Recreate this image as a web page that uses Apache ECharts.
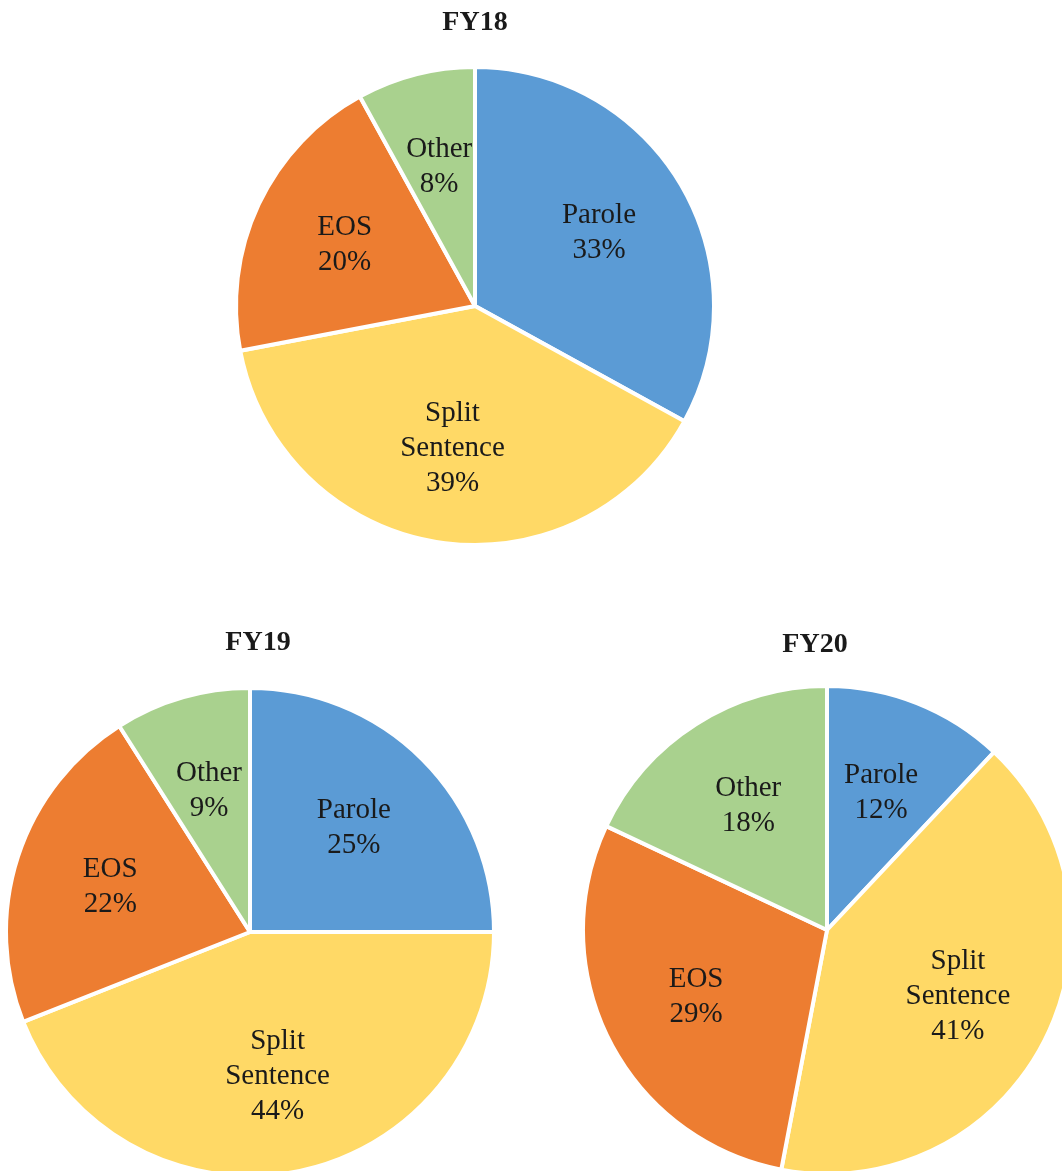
<!DOCTYPE html>
<html>
<head>
<meta charset="utf-8">
<script src="https://cdn.jsdelivr.net/npm/echarts@6/dist/echarts.min.js"></script>
<style>
  html, body { margin: 0; padding: 0; background: #fff; }
  #chart { width: 1062px; height: 1171px; }
</style>
</head>
<body>
<div id="chart"></div>
<script>
  /* 数据源 */
  const categories = ['Parole', 'Split Sentence', 'EOS', 'Other'];
  const fy18 = [33, 39, 20, 8];
  const fy19 = [25, 44, 22, 9];
  const fy20 = [12, 41, 29, 18];
  const colors = ['#5B9BD5', '#FFD966', '#ED7D31', '#A9D18E'];

  const font = '"Liberation Serif", "Times New Roman", serif';

  const chart = echarts.init(document.getElementById('chart'));

  function toData(values) {
    return categories.map((name, i) => ({ name, value: values[i] }));
  }

  /* 一个饼 + 一个透明的标签层 */
  function pies(values, center, r) {
    const data = toData(values);
    return [
      {
        type: 'pie',
        center,
        radius: r,
        startAngle: 90,
        clockwise: true,
        data,
        label: { show: false },
        labelLine: { show: false },
        itemStyle: {
          color: p => colors[p.dataIndex],
          borderColor: '#fff',
          borderWidth: 4
        },
        emphasis: { disabled: true }
      },
      {
        type: 'pie',
        center,
        radius: r * 1.18,
        startAngle: 90,
        clockwise: true,
        silent: true,
        data,
        itemStyle: { color: 'rgba(0,0,0,0)', borderWidth: 0 },
        label: {
          show: true,
          position: 'inside',
          fontFamily: font,
          fontSize: 29,
          lineHeight: 35,
          color: '#1a1a1a',
          formatter: p => p.name.replace(' ', '\n') + '\n' + p.value + '%'
        },
        labelLine: { show: false },
        emphasis: { disabled: true }
      }
    ];
  }

  const titleStyle = { fontFamily: font, fontSize: 28, fontWeight: 'bold', color: '#1a1a1a' };

  const option = {
    animation: false,
    backgroundColor: '#fff',
    title: [
      { text: 'FY18', left: 470, top: 4, textAlign: 'center', textStyle: titleStyle },
      { text: 'FY19', left: 253, top: 624, textAlign: 'center', textStyle: titleStyle },
      { text: 'FY20', left: 810, top: 626, textAlign: 'center', textStyle: titleStyle }
    ],
    series: [
      ...pies(fy18, [475, 306], 239),
      ...pies(fy19, [250, 932], 244),
      ...pies(fy20, [827, 930], 244)
    ]
  };

  chart.setOption(option);
</script>
</body>
</html>
